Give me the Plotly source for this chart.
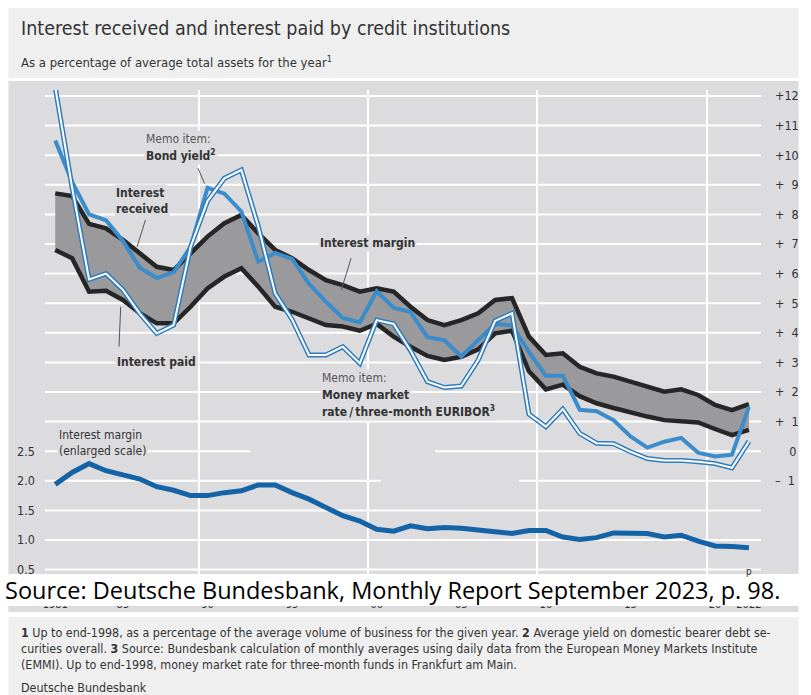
import plotly.graph_objects as go

# ---- data ----
years = list(range(1981, 2023))

interest_received = [8.71, 8.62, 7.68, 7.53, 7.14, 6.69, 6.23, 6.12, 6.69, 7.25,
                     7.70, 7.98, 7.36, 6.80, 6.52, 6.12, 5.78, 5.61, 5.39, 5.50,
                     5.39, 4.88, 4.43, 4.26, 4.43, 4.66, 5.11, 5.17, 3.87, 3.25,
                     3.31, 2.85, 2.63, 2.52, 2.35, 2.18, 2.01, 2.09, 1.90, 1.56,
                     1.39, 1.59]

interest_paid = [6.80, 6.52, 5.39, 5.42, 5.11, 4.66, 4.32, 4.32, 4.88, 5.50,
                 5.90, 6.18, 5.56, 4.88, 4.71, 4.49, 4.26, 4.21, 4.07, 4.30,
                 3.87, 3.53, 3.22, 3.08, 3.19, 3.44, 3.98, 4.07, 2.70, 2.09,
                 2.25, 1.86, 1.62, 1.46, 1.30, 1.17, 1.05, 1.02, 0.97, 0.75,
                 0.54, 0.72]

bond_yield = [10.5, 9.1, 8.0, 7.8, 7.1, 6.2, 5.85, 6.05, 6.9, 8.9,
              8.7, 8.1, 6.4, 6.7, 6.5, 5.65, 5.05, 4.5, 4.35, 5.4,
              4.85, 4.7, 3.85, 3.75, 3.2, 3.75, 4.3, 4.25, 3.35, 2.55,
              2.55, 1.4, 1.35, 1.05, 0.5, 0.12, 0.32, 0.45, -0.05, -0.18,
              -0.12, 1.5]

money_market = [12.3, 8.9, 5.8, 6.0, 5.45, 4.65, 3.98, 4.26, 6.9, 8.45,
                9.22, 9.5, 7.6, 5.33, 4.45, 3.25, 3.25, 3.53, 2.97, 4.43,
                4.3, 3.4, 2.35, 2.15, 2.2, 3.08, 4.4, 4.66, 1.25, 0.83,
                1.42, 0.6, 0.27, 0.25, -0.02, -0.25, -0.31, -0.31, -0.36, -0.42,
                -0.56, 0.33]

margin_enlarged = [1.94, 2.14, 2.29, 2.17, 2.10, 2.03, 1.90, 1.84, 1.75, 1.75,
                   1.80, 1.83, 1.93, 1.93, 1.80, 1.69, 1.55, 1.41, 1.32, 1.18,
                   1.15, 1.24, 1.19, 1.21, 1.20, 1.16, 1.14, 1.11, 1.16, 1.16,
                   1.05, 1.01, 1.04, 1.12, 1.12, 1.11, 1.05, 1.08, 0.98, 0.90,
                   0.89, 0.87]

x_labels = ["1981", "85", "90", "95", "00", "05", "10", "15", "20", "2022"]
x_label_years = [1981, 1985, 1990, 1995, 2000, 2005, 2010, 2015, 2020, 2022]

right_ticks = list(range(-1, 13))
right_text = ["\u2013\u20071", "\u2007\u20070"] + ["+\u2007%d" % v for v in range(1, 10)] + ["+10", "+11", "+12"]
left_ticks = [0.5, 1.0, 1.5, 2.0, 2.5]

# ---- layout constants ----
W_FIG, H_FIG = 811, 695
L, R, T, B = 42, 39, 90, 101
PW, PH = W_FIG - L - R, H_FIG - T - B

PANEL = "#dcdcde"
LIGHT = "#efefef"
FONT = "Liberation Sans Narrow, DejaVu Sans Condensed, Arial Narrow, sans-serif"


def px(xp):
    return (xp - L) / PW


def py(yp):
    return (T + PH - yp) / PH


# one value per year, plotted in the middle of the year
xs = [y + 0.5 for y in years]

fig = go.Figure()

# grey band between interest received and interest paid
fig.add_trace(go.Scatter(x=xs, y=interest_paid, mode="lines", line=dict(width=0),
                         hoverinfo="skip", showlegend=False))
fig.add_trace(go.Scatter(x=xs, y=interest_received, mode="lines", line=dict(width=0),
                         fill="tonexty", fillcolor="#9a9a9c", hoverinfo="skip", showlegend=False))

fig.add_trace(go.Scatter(x=xs, y=interest_received, mode="lines", name="Interest received",
                         line=dict(color="#262626", width=4.5)))
fig.add_trace(go.Scatter(x=xs, y=interest_paid, mode="lines", name="Interest paid",
                         line=dict(color="#262626", width=4.5)))

fig.add_trace(go.Scatter(x=xs, y=bond_yield, mode="lines", name="Bond yield",
                         line=dict(color="#3b8ccb", width=4)))

# double line: blue outline with white core
fig.add_trace(go.Scatter(x=xs, y=money_market, mode="lines", name="Money market rate",
                         line=dict(color="#2f7dbd", width=5)))
fig.add_trace(go.Scatter(x=xs, y=money_market, mode="lines", hoverinfo="skip", showlegend=False,
                         line=dict(color="white", width=2)))

fig.add_trace(go.Scatter(x=xs, y=margin_enlarged, mode="lines", name="Interest margin (enlarged)",
                         yaxis="y2", line=dict(color="#1463a6", width=5)))

# ---- axes ----
x_lo = 1990 + (L - 201) / 17.13
x_hi = 1990 + (L + PW - 201) / 17.13
y_hi = (451.2 - T) / 29.6
y_lo = (451.2 - (T + PH)) / 29.6

fig.update_layout(
    width=W_FIG, height=H_FIG,
    margin=dict(l=L, r=R, t=T, b=B),
    paper_bgcolor="white",
    plot_bgcolor="rgba(0,0,0,0)",
    showlegend=False,
    font=dict(family=FONT, size=13, color="#333333"),
    xaxis=dict(range=[x_lo, x_hi], showgrid=False, zeroline=False, showline=False,
               tickvals=[y + 0.5 for y in x_label_years], ticktext=x_labels,
               ticks="", ticklabelstandoff=2, tickfont=dict(size=11),
               minor=dict(tickmode="linear", tick0=1990, dtick=10, showgrid=True,
                          gridcolor="white", gridwidth=2, ticks="")),
    yaxis=dict(range=[y_lo, y_hi], side="right", showgrid=False, zeroline=False,
               tickvals=right_ticks, ticktext=right_text, ticks="",
               ticklabelstandoff=11, tickfont=dict(size=12.5)),
    yaxis2=dict(range=[2.5 + y_lo / 2, 2.5 + y_hi / 2], overlaying="y", side="left",
                showgrid=False, zeroline=False, tickvals=left_ticks,
                ticktext=["%.1f" % v for v in left_ticks], ticks="",
                ticklabelstandoff=6, tickfont=dict(size=12.5)),
)

# ---- background panels ----
shapes = [
    dict(type="rect", xref="paper", yref="paper", x0=px(8), x1=px(808), y0=py(78), y1=py(8),
         fillcolor=LIGHT, line=dict(width=0), layer="below"),
    dict(type="rect", xref="paper", yref="paper", x0=px(8), x1=px(808), y0=py(612), y1=py(81),
         fillcolor=PANEL, line=dict(width=0), layer="below"),
    dict(type="rect", xref="paper", yref="paper", x0=px(8), x1=px(808), y0=py(695), y1=py(617),
         fillcolor=LIGHT, line=dict(width=0), layer="below"),
]

# horizontal grid lines (some are cut short as in the original)
upper_grid = [(v, 45, 770) for v in range(1, 13)] + [(0, 440, 770), (-1, 525, 770)]
lower_grid = [(2.5, 45, 253), (2.0, 45, 385), (1.5, 45, 770), (1.0, 45, 770), (0.5, 45, 770)]
for v, a, b in upper_grid:
    shapes.append(dict(type="line", xref="paper", yref="y", x0=px(a), x1=px(b), y0=v, y1=v,
                       line=dict(color="white", width=2), layer="below"))
for v, a, b in lower_grid:
    shapes.append(dict(type="line", xref="paper", yref="y2", x0=px(a), x1=px(b), y0=v, y1=v,
                       line=dict(color="white", width=2), layer="below"))

# leader lines for the labels
leaders = [((1989.94, 9.56), (1990.33, 9.04)),
           ((1986.83, 7.81), (1986.34, 6.91)),
           ((1998.99, 6.52), (1998.41, 5.45)),
           ((1985.27, 3.53), (1985.37, 4.88))]
for (xa, ya), (xb, yb) in leaders:
    shapes.append(dict(type="line", xref="x", yref="y", x0=xa, y0=ya, x1=xb, y1=yb,
                       line=dict(color="#555555", width=1)))

# white band carrying the source line
shapes.append(dict(type="rect", xref="paper", yref="paper", x0=px(0), x1=px(811),
                   y0=py(606), y1=py(574), fillcolor="white", line=dict(width=0), layer="above"))
fig.update_layout(shapes=shapes)


# ---- labels ----
def label(text, x, y, yanchor="middle", color="#333333"):
    fig.add_annotation(text=text, x=x, y=y, xref="x", yref="y", xanchor="left",
                       yanchor=yanchor, showarrow=False, align="left", bgcolor=PANEL,
                       borderpad=1, font=dict(size=12, color=color))


label("Memo item:", 1986.73, 10.55, color="#555555")
label("<b>Bond yield<sup>2</sup></b>", 1986.73, 10.0)
label("<b>Interest</b>", 1984.98, 8.72)
label("<b>received</b>", 1984.98, 8.17)
label("<b>Interest margin</b>", 1997.06, 7.03)
label("<b>Interest paid</b>", 1985.04, 3.01)
label("Memo item:", 1997.12, 2.48, color="#555555")
label("<b>Money market</b>", 1997.12, 1.90)
label("<b>rate\u2009/\u2009three-month EURIBOR<sup>3</sup></b>", 1997.12, 1.37)
label("Interest margin", 1981.6, 0.55)
label("(enlarged scale)", 1981.6, 0.0)

# provisional marker above the last year, mostly hidden by the band
fig.add_annotation(text="p", x=2022.5, y=py(571), xref="x", yref="paper", showarrow=False,
                   yanchor="middle", font=dict(size=10, color="#333333"))


# titles and notes in page coordinates
def page_text(text, xp, yp, size, color="#333333", family=FONT):
    fig.add_annotation(text=text, x=px(xp), y=py(yp), xref="paper", yref="paper",
                       xanchor="left", yanchor="middle", showarrow=False, align="left",
                       font=dict(size=size, color=color, family=family))


page_text("Interest received and interest paid by credit institutions", 19, 29, 19.5)
page_text("As a percentage of average total assets for the year<sup>1</sup>", 19, 62, 13)
page_text("Source: Deutsche Bundesbank, Monthly Report September 2023, p. 98.", 3, 590, 23.5,
          color="black", family="Open Sans, Noto Sans, sans-serif")
page_text("<b>1</b> Up to end-1998, as a percentage of the average volume of business for the given year. "
          "<b>2</b> Average yield on domestic bearer debt se-<br>curities overall. "
          "<b>3</b> Source: Bundesbank calculation of monthly averages using daily data from the European "
          "Money Markets Institute<br>(EMMI). Up to end-1998, money market rate for three-month funds "
          "in Frankfurt am Main.", 19, 648, 12.4)
page_text("Deutsche Bundesbank", 19, 687, 12.4)

# the page is shown edge to edge, so drop the browser's default body margin
fig.write_html("out.html", config={"displayModeBar": False},
               post_script="document.body.style.margin='0';")
